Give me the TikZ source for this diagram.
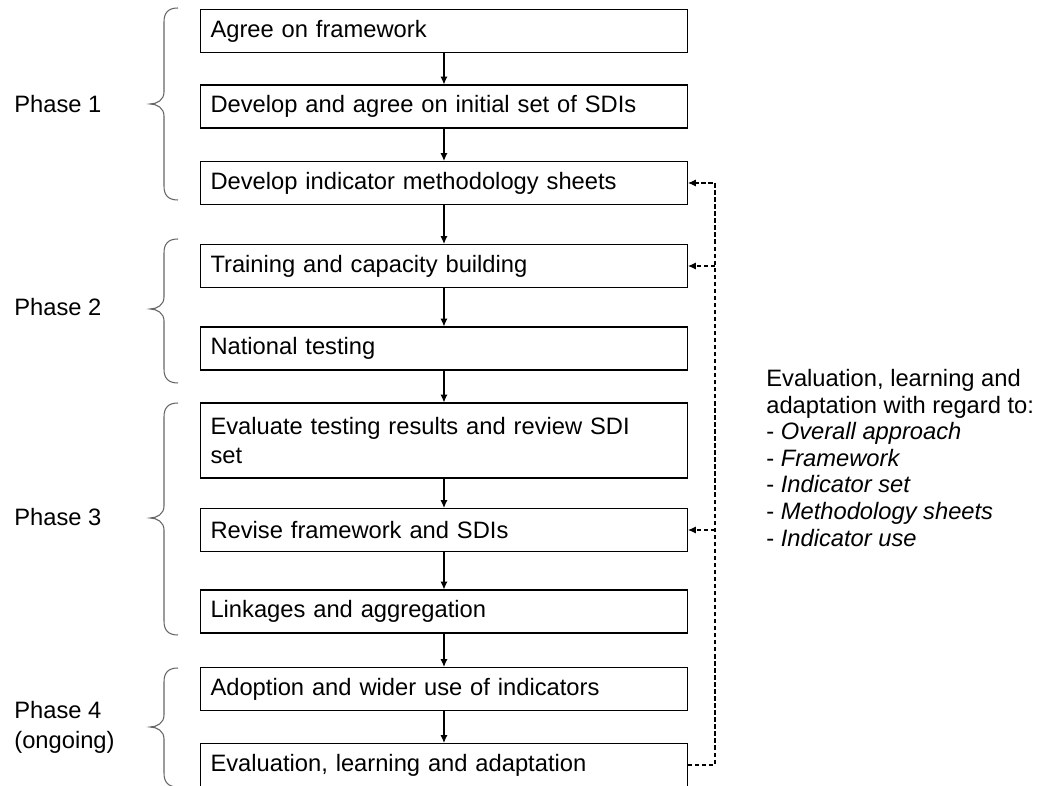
\documentclass[tikz,border=0pt]{standalone}
\usepackage{fontspec}
\setmainfont{Liberation Sans}
\usetikzlibrary{arrows.meta}
\tikzset{
  stepbox/.style={draw, line width=0.6pt, anchor=west, text width=9.34cm, inner xsep=0.2cm, inner ysep=0pt, minimum height=0.86cm, align=left},
  flow/.style={-{Latex[length=4.5pt,width=4pt]}, line width=0.6pt},
  feedback/.style={flow, dash pattern=on 2.5pt off 1.5pt},
  phasebrace/.style={gray!80!black, line width=0.6pt},
  phaselabel/.style={anchor=west, inner sep=0pt, align=left},
}
\begin{document}
\begin{tikzpicture}[x=0.02cm, y=-0.02cm, font=\fontsize{13.5}{17}\selectfont]
  \useasboundingbox (0,0) rectangle (1055,786);
  % Steps
  \node[stepbox] (agree) at (200,31) {Agree on framework};
  \node[stepbox] (initial) at (200,106.5) {Develop and agree on initial set of SDIs};
  \node[stepbox] (sheets) at (200,183) {Develop indicator methodology sheets};
  \node[stepbox] (training) at (200,266) {Training and capacity building};
  \node[stepbox] (testing) at (200,348.5) {National testing};
  \node[stepbox, minimum height=1.5cm] (evaluate) at (200,440.5) {Evaluate testing results and review SDI\\set};
  \node[stepbox] (revise) at (200,530) {Revise framework and SDIs};
  \node[stepbox] (linkages) at (200,611.5) {Linkages and aggregation};
  \node[stepbox] (adoption) at (200,689) {Adoption and wider use of indicators};
  \node[stepbox] (evaluation) at (200,765) {Evaluation, learning and adaptation};
  \foreach \a/\b in {agree/initial, initial/sheets, sheets/training, training/testing, testing/evaluate, evaluate/revise, revise/linkages, linkages/adoption, adoption/evaluation}
    \draw[flow] (\a) -- (\b);
  % Feedback loop
  \coordinate (loop) at (715,765);
  \draw[feedback] (evaluation.east) -- (loop) |- (sheets.east);
  \draw[feedback] (loop |- training.east) -- (training.east);
  \draw[feedback] (loop |- revise.east) -- (revise.east);
  % Phases
  \node[phaselabel] (phase1) at (14,104) {Phase 1};
  \node[phaselabel] (phase2) at (14,307) {Phase 2};
  \node[phaselabel] (phase3) at (14,517) {Phase 3};
  \node[phaselabel] (phase4) at (14,727.5) {Phase 4\\(ongoing)};
  \foreach \t/\m/\b in {8/104/200, 239/309/383, 403/518/635, 668/727/787}
    \draw[phasebrace] (178,\t) .. controls (168,\t) and (164,\t+5) .. (164,\t+14)
      -- (164,\m-12) .. controls (164,\m-4) and (157,\m) .. (150,\m)
      .. controls (157,\m) and (164,\m+4) .. (164,\m+12)
      -- (164,\b-14) .. controls (164,\b-5) and (168,\b) .. (178,\b);
  % Notes
  \node[anchor=west, inner sep=0pt, align=left, font=\fontsize{13.5}{15.1}\selectfont] (notes) at (766,458)
    {Evaluation, learning and\\adaptation with regard to:\\- \textit{Overall approach}\\- \textit{Framework}\\- \textit{Indicator set}\\- \textit{Methodology sheets}\\- \textit{Indicator use}};
\end{tikzpicture}
\end{document}
